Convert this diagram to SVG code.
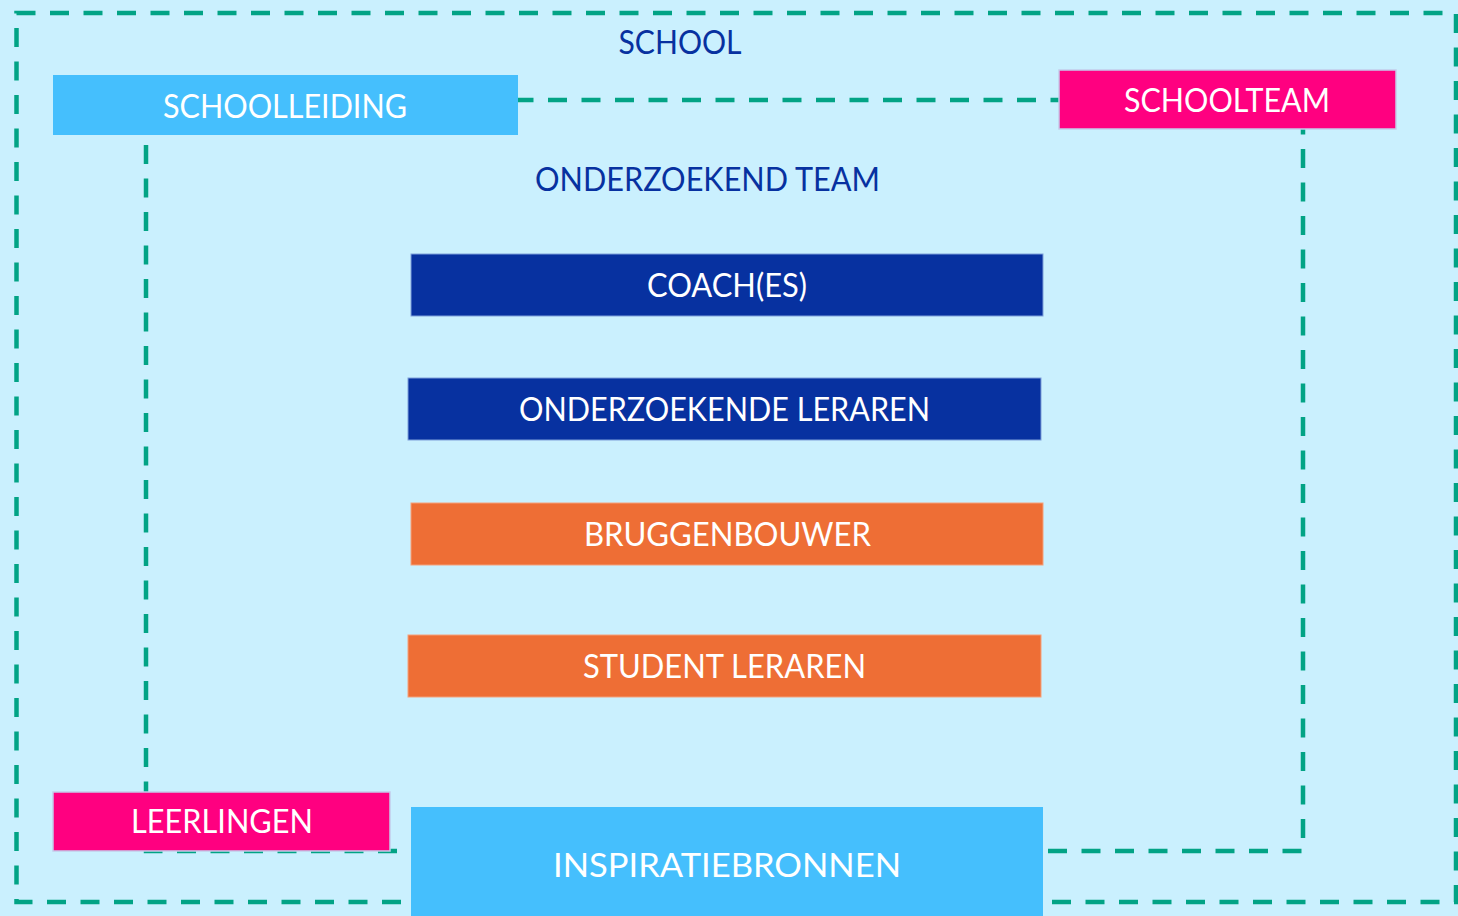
<svg xmlns="http://www.w3.org/2000/svg" width="1458" height="916" viewBox="0 0 1458 916">
<style>
.dash{fill:none;stroke:#02A385;stroke-width:4.5;stroke-dasharray:19 14.5}
.t{font-family:Lato,"Open Sans","Liberation Sans",sans-serif;font-size:33px;text-anchor:middle;fill:#fff}
.lbl{font-family:Lato,"Open Sans","Liberation Sans",sans-serif;font-size:33px;text-anchor:middle;fill:#0731A0}
.lb{fill:#45BFFD}
.pk{fill:#FF0080;stroke:#C4CCEA;stroke-width:1.5}
.db{fill:#0731A0;stroke:#7FA0DA;stroke-width:1}
.or{fill:#EE6E35;stroke:#F5A07A;stroke-width:1}
</style>
<rect x="0" y="0" width="1458" height="916" fill="#CAF0FE"/>
<g id="connectors">
<rect class="dash" x="16.5" y="13" width="1439.5" height="889"/>
<rect class="dash" x="146" y="100" width="1157" height="751"/>
</g>
<g id="school-label"><text class="lbl" x="680" y="54" textLength="123" lengthAdjust="spacingAndGlyphs">SCHOOL</text></g>
<g id="team-label"><text class="lbl" x="707.5" y="191" textLength="345" lengthAdjust="spacingAndGlyphs">ONDERZOEKEND TEAM</text></g>
<g id="schoolleiding"><rect class="lb" x="53" y="75" width="465" height="60"/><text class="t" x="285" y="118" textLength="244" lengthAdjust="spacingAndGlyphs">SCHOOLLEIDING</text></g>
<g id="schoolteam"><rect class="pk" x="1059" y="70" width="337" height="59"/><text class="t" x="1227" y="112" textLength="206" lengthAdjust="spacingAndGlyphs">SCHOOLTEAM</text></g>
<g id="coaches"><rect class="db" x="411" y="254" width="632" height="62"/><text class="t" x="727" y="297" textLength="160" lengthAdjust="spacingAndGlyphs">COACH(ES)</text></g>
<g id="onderzoekende-leraren"><rect class="db" x="408" y="378" width="633" height="62"/><text class="t" x="724.5" y="421" textLength="411" lengthAdjust="spacingAndGlyphs">ONDERZOEKENDE LERAREN</text></g>
<g id="bruggenbouwer"><rect class="or" x="411" y="503" width="632" height="62"/><text class="t" x="727.5" y="546" textLength="287" lengthAdjust="spacingAndGlyphs">BRUGGENBOUWER</text></g>
<g id="student-leraren"><rect class="or" x="408" y="635" width="633" height="62"/><text class="t" x="724.5" y="678" textLength="283" lengthAdjust="spacingAndGlyphs">STUDENT LERAREN</text></g>
<g id="leerlingen"><rect class="pk" x="53" y="792" width="337" height="59"/><text class="t" x="222" y="833" textLength="182" lengthAdjust="spacingAndGlyphs">LEERLINGEN</text></g>
<g id="inspiratiebronnen"><rect class="lb" x="411" y="807" width="632" height="112"/><text class="t" x="727" y="877" font-size="35" textLength="348" lengthAdjust="spacingAndGlyphs">INSPIRATIEBRONNEN</text></g>
</svg>
